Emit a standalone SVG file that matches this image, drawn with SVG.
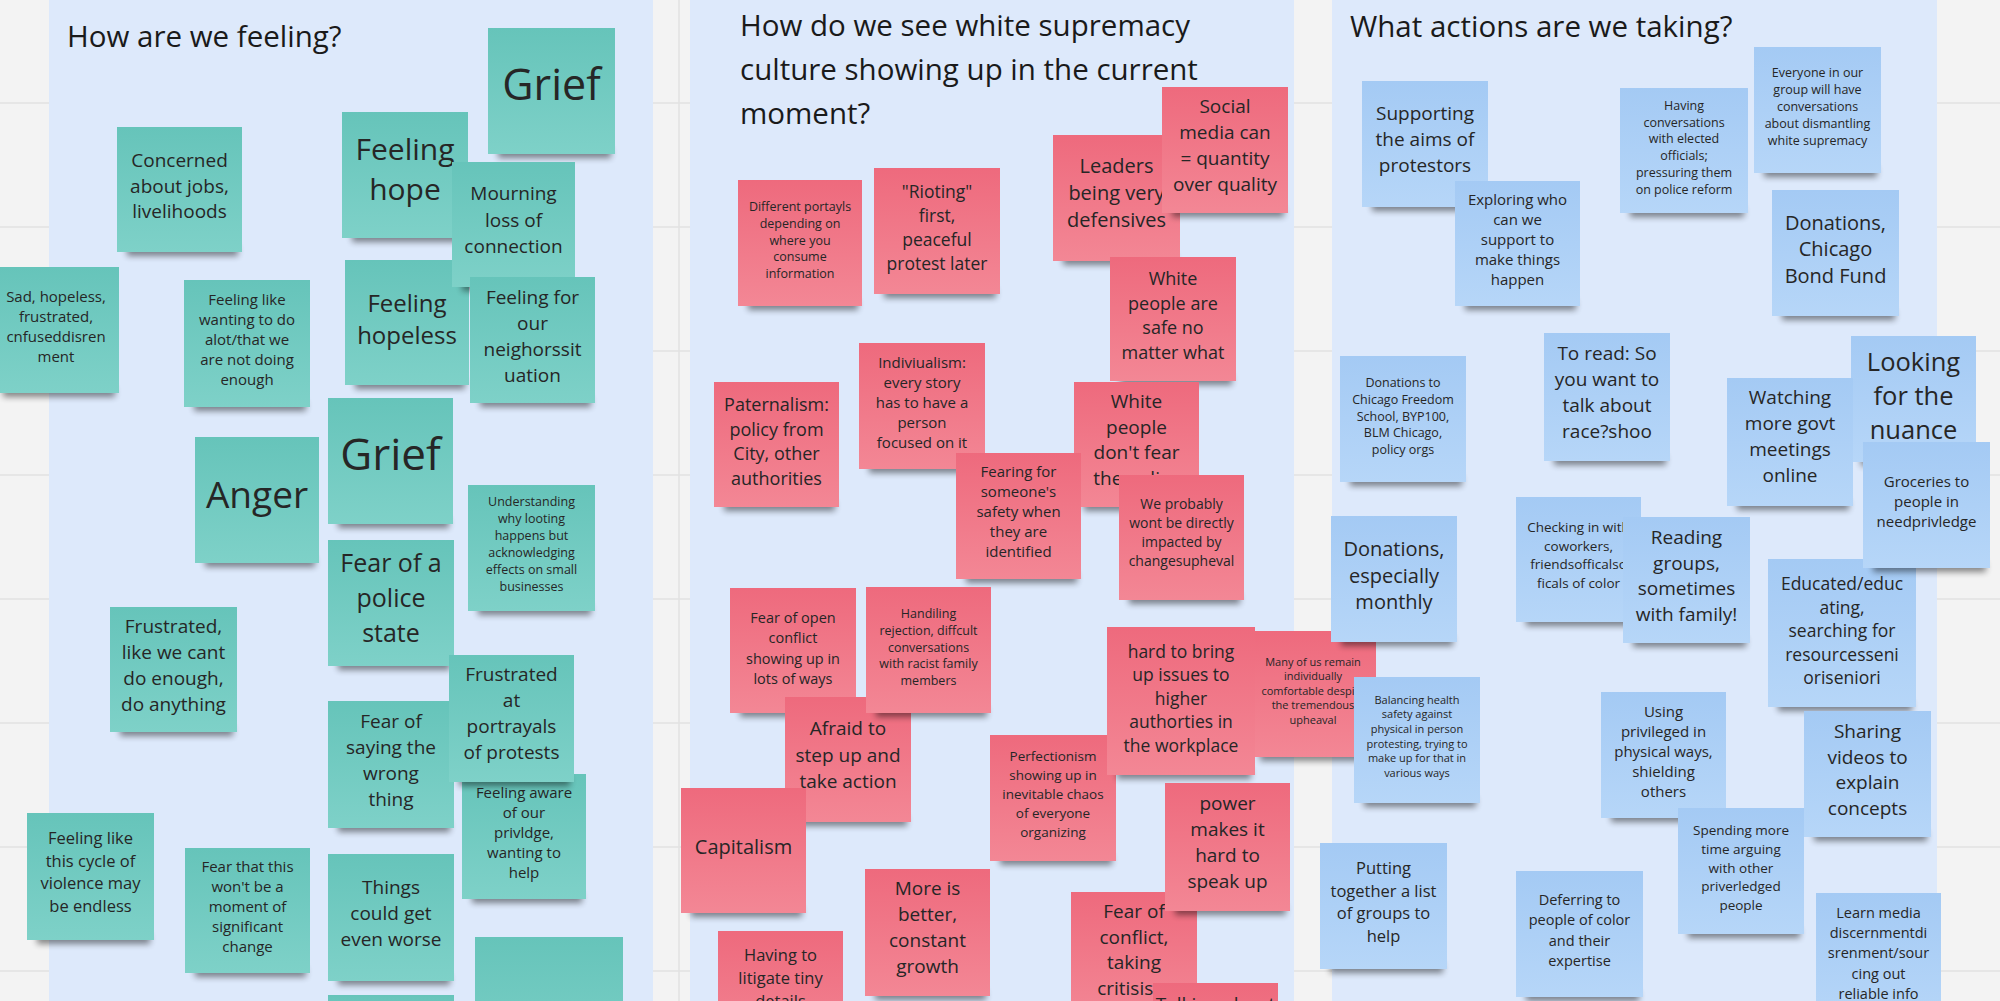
<svg xmlns="http://www.w3.org/2000/svg" width="2000" height="1001" viewBox="0 0 2000 1001">
<defs>
<linearGradient id="gt" x1="0" y1="0" x2="0" y2="1"><stop offset="0" stop-color="#66c4ba"/><stop offset="1" stop-color="#7ed1c8"/></linearGradient>
<linearGradient id="gp" x1="0" y1="0" x2="0" y2="1"><stop offset="0" stop-color="#ee6a7d"/><stop offset="1" stop-color="#f38795"/></linearGradient>
<linearGradient id="gb" x1="0" y1="0" x2="0" y2="1"><stop offset="0" stop-color="#a4caf4"/><stop offset="1" stop-color="#b6d6f8"/></linearGradient>
<filter id="blur" x="-20%" y="-200%" width="140%" height="500%"><feGaussianBlur stdDeviation="3"/></filter>
</defs>
<style>
.t{fill:url(#gt)}.p{fill:url(#gp)}.b{fill:url(#gb)}
.sh{fill:#000;opacity:.45;filter:url(#blur)}
.panel{fill:#dde9fb}
.grid{stroke:#e2e2e2;stroke-width:1.5}
text{font-family:"Open Sans","Noto Sans","Liberation Sans",sans-serif;fill:#262626;text-anchor:middle}
.title{text-anchor:start;fill:#1a1a1a;font-size:29.5px}
</style>
<rect width="2000" height="1001" fill="#f3f3f3"/>
<g id="grid">
<line class="grid" x1="0" y1="103" x2="2000" y2="103"/><line class="grid" x1="0" y1="227" x2="2000" y2="227"/><line class="grid" x1="0" y1="351" x2="2000" y2="351"/><line class="grid" x1="0" y1="475" x2="2000" y2="475"/><line class="grid" x1="0" y1="599" x2="2000" y2="599"/><line class="grid" x1="0" y1="723" x2="2000" y2="723"/><line class="grid" x1="0" y1="847" x2="2000" y2="847"/><line class="grid" x1="0" y1="971" x2="2000" y2="971"/><line class="grid" x1="679" y1="0" x2="679" y2="1001"/>
</g>
<g id="panels">
<rect class="panel" x="49" y="0" width="604" height="1001"/>
<rect class="panel" x="690" y="0" width="604" height="1001"/>
<rect class="panel" x="1332" y="0" width="605" height="1001"/>
</g>
<g id="titles">
<text class="title" x="67" y="47">How are we feeling?</text>
<text class="title" x="740" y="36">How do we see white supremacy</text>
<text class="title" x="740" y="80">culture showing up in the current</text>
<text class="title" x="740" y="124">moment?</text>
<text class="title" x="1350" y="37">What actions are we taking?</text>
</g>
<g id="connectors"/>
<!-- LEFT -->
<g id="n-grief1"><rect class="sh" x="498" y="148" width="113" height="10"/><rect class="t" x="488" y="28" width="127" height="126"/><text x="551.5" y="100" font-size="43">Grief</text></g>
<g id="n-concerned"><rect class="sh" x="127" y="246" width="111" height="10"/><rect class="t" x="117" y="127" width="125" height="125"/><text x="179.5" y="167" font-size="19"><tspan x="179.5">Concerned</tspan><tspan x="179.5" dy="25.5">about jobs,</tspan><tspan x="179.5" dy="25.5">livelihoods</tspan></text></g>
<g id="n-feelinghope"><rect class="sh" x="352" y="232" width="112" height="10"/><rect class="t" x="342" y="112" width="126" height="126"/><text x="405" y="160" font-size="30"><tspan x="405">Feeling</tspan><tspan x="405" dy="40">hope</tspan></text></g>
<g id="n-hopeless"><rect class="sh" x="355" y="379" width="110" height="10"/><rect class="t" x="345" y="260" width="124" height="125"/><text x="407" y="312" font-size="24"><tspan x="407">Feeling</tspan><tspan x="407" dy="32">hopeless</tspan></text></g>
<g id="n-mourning"><rect class="sh" x="462" y="281" width="109" height="10"/><rect class="t" x="452" y="162" width="123" height="125"/><text x="513.5" y="200" font-size="19"><tspan x="513.5">Mourning</tspan><tspan x="513.5" dy="26.5">loss of</tspan><tspan x="513.5" dy="26.5">connection</tspan></text></g>
<g id="n-feelingfor"><rect class="sh" x="480" y="397" width="111" height="10"/><rect class="t" x="470" y="277" width="125" height="126"/><text x="532.5" y="304" font-size="19"><tspan x="532.5">Feeling for</tspan><tspan x="532.5" dy="26">our</tspan><tspan x="532.5" dy="26">neighorssit</tspan><tspan x="532.5" dy="26">uation</tspan></text></g>
<g id="n-sad"><rect class="sh" x="3" y="387" width="112" height="10"/><rect class="t" x="-7" y="267" width="126" height="126"/><text x="56" y="302" font-size="15"><tspan x="56">Sad, hopeless,</tspan><tspan x="56" dy="20">frustrated,</tspan><tspan x="56" dy="20">cnfuseddisren</tspan><tspan x="56" dy="20">ment</tspan></text></g>
<g id="n-feelinglike"><rect class="sh" x="194" y="401" width="112" height="10"/><rect class="t" x="184" y="280" width="126" height="127"/><text x="247" y="305" font-size="15"><tspan x="247">Feeling like</tspan><tspan x="247" dy="20">wanting to do</tspan><tspan x="247" dy="20">alot/that we</tspan><tspan x="247" dy="20">are not doing</tspan><tspan x="247" dy="20">enough</tspan></text></g>
<g id="n-grief2"><rect class="sh" x="338" y="518" width="111" height="10"/><rect class="t" x="328" y="398" width="125" height="126"/><text x="390.5" y="470" font-size="44">Grief</text></g>
<g id="n-anger"><rect class="sh" x="205" y="557" width="110" height="10"/><rect class="t" x="195" y="437" width="124" height="126"/><text x="257" y="508" font-size="37">Anger</text></g>
<g id="n-understanding"><rect class="sh" x="478" y="605" width="113" height="10"/><rect class="t" x="468" y="485" width="127" height="126"/><text x="531.5" y="506" font-size="12.5"><tspan x="531.5">Understanding</tspan><tspan x="531.5" dy="17">why looting</tspan><tspan x="531.5" dy="17">happens but</tspan><tspan x="531.5" dy="17">acknowledging</tspan><tspan x="531.5" dy="17">effects on small</tspan><tspan x="531.5" dy="17">businesses</tspan></text></g>
<g id="n-policestate"><rect class="sh" x="338" y="660" width="112" height="10"/><rect class="t" x="328" y="540" width="126" height="126"/><text x="391" y="572" font-size="25"><tspan x="391">Fear of a</tspan><tspan x="391" dy="35">police</tspan><tspan x="391" dy="35">state</tspan></text></g>
<g id="n-frustrated1"><rect class="sh" x="120" y="726" width="113" height="10"/><rect class="t" x="110" y="607" width="127" height="125"/><text x="173.5" y="633" font-size="19"><tspan x="173.5">Frustrated,</tspan><tspan x="173.5" dy="26">like we cant</tspan><tspan x="173.5" dy="26">do enough,</tspan><tspan x="173.5" dy="26">do anything</tspan></text></g>
<g id="n-saying"><rect class="sh" x="338" y="822" width="112" height="10"/><rect class="t" x="328" y="701" width="126" height="127"/><text x="391" y="728" font-size="19"><tspan x="391">Fear of</tspan><tspan x="391" dy="26">saying the</tspan><tspan x="391" dy="26">wrong</tspan><tspan x="391" dy="26">thing</tspan></text></g>
<g id="n-aware"><rect class="sh" x="472" y="893" width="110" height="10"/><rect class="t" x="462" y="774" width="124" height="125"/><text x="524" y="798" font-size="15"><tspan x="524">Feeling aware</tspan><tspan x="524" dy="20">of our</tspan><tspan x="524" dy="20">privldge,</tspan><tspan x="524" dy="20">wanting to</tspan><tspan x="524" dy="20">help</tspan></text></g>
<g id="n-frustrated2"><rect class="sh" x="459" y="776" width="111" height="10"/><rect class="t" x="449" y="655" width="125" height="127"/><text x="511.5" y="681" font-size="19"><tspan x="511.5">Frustrated</tspan><tspan x="511.5" dy="26">at</tspan><tspan x="511.5" dy="26">portrayals</tspan><tspan x="511.5" dy="26">of protests</tspan></text></g>
<g id="n-cycle"><rect class="sh" x="37" y="934" width="113" height="10"/><rect class="t" x="27" y="813" width="127" height="127"/><text x="90.5" y="844" font-size="16.5"><tspan x="90.5">Feeling like</tspan><tspan x="90.5" dy="22.5">this cycle of</tspan><tspan x="90.5" dy="22.5">violence may</tspan><tspan x="90.5" dy="22.5">be endless</tspan></text></g>
<g id="n-fearthat"><rect class="sh" x="195" y="967" width="111" height="10"/><rect class="t" x="185" y="848" width="125" height="125"/><text x="247.5" y="872" font-size="15"><tspan x="247.5">Fear that this</tspan><tspan x="247.5" dy="20">won't be a</tspan><tspan x="247.5" dy="20">moment of</tspan><tspan x="247.5" dy="20">significant</tspan><tspan x="247.5" dy="20">change</tspan></text></g>
<g id="n-worse"><rect class="sh" x="338" y="975" width="112" height="10"/><rect class="t" x="328" y="854" width="126" height="127"/><text x="391" y="894" font-size="19"><tspan x="391">Things</tspan><tspan x="391" dy="26">could get</tspan><tspan x="391" dy="26">even worse</tspan></text></g>
<g id="n-partial1"><rect class="t" x="475" y="937" width="148" height="140"/></g>
<g id="n-partial2"><rect class="t" x="328" y="995" width="126" height="40"/></g>
<!-- MIDDLE -->
<g id="n-portayls"><rect class="sh" x="748" y="300" width="110" height="10"/><rect class="p" x="738" y="180" width="124" height="126"/><text x="800" y="211" font-size="12.5"><tspan x="800">Different portayls</tspan><tspan x="800" dy="16.8">depending on</tspan><tspan x="800" dy="16.8">where you</tspan><tspan x="800" dy="16.8">consume</tspan><tspan x="800" dy="16.8">information</tspan></text></g>
<g id="n-rioting"><rect class="sh" x="884" y="288" width="112" height="10"/><rect class="p" x="874" y="168" width="126" height="126"/><text x="937" y="198" font-size="17.5"><tspan x="937">"Rioting"</tspan><tspan x="937" dy="24">first,</tspan><tspan x="937" dy="24">peaceful</tspan><tspan x="937" dy="24">protest later</tspan></text></g>
<g id="n-leaders"><rect class="sh" x="1063" y="255" width="113" height="10"/><rect class="p" x="1053" y="135" width="127" height="126"/><text x="1116.5" y="173" font-size="20"><tspan x="1116.5">Leaders</tspan><tspan x="1116.5" dy="27">being very</tspan><tspan x="1116.5" dy="27">defensives</tspan></text></g>
<g id="n-social"><rect class="sh" x="1172" y="207" width="112" height="10"/><rect class="p" x="1162" y="87" width="126" height="126"/><text x="1225" y="113" font-size="19"><tspan x="1225">Social</tspan><tspan x="1225" dy="26">media can</tspan><tspan x="1225" dy="26">= quantity</tspan><tspan x="1225" dy="26">over quality</tspan></text></g>
<g id="n-whitesafe"><rect class="sh" x="1120" y="375" width="112" height="10"/><rect class="p" x="1110" y="257" width="126" height="124"/><text x="1173" y="285" font-size="18"><tspan x="1173">White</tspan><tspan x="1173" dy="24.5">people are</tspan><tspan x="1173" dy="24.5">safe no</tspan><tspan x="1173" dy="24.5">matter what</tspan></text></g>
<g id="n-paternalism"><rect class="sh" x="724" y="501" width="111" height="10"/><rect class="p" x="714" y="382" width="125" height="125"/><text x="776.5" y="411" font-size="18"><tspan x="776.5">Paternalism:</tspan><tspan x="776.5" dy="24.5">policy from</tspan><tspan x="776.5" dy="24.5">City, other</tspan><tspan x="776.5" dy="24.5">authorities</tspan></text></g>
<g id="n-indiv"><rect class="sh" x="869" y="463" width="112" height="10"/><rect class="p" x="859" y="343" width="126" height="126"/><text x="922" y="368" font-size="15"><tspan x="922">Indiviualism:</tspan><tspan x="922" dy="20">every story</tspan><tspan x="922" dy="20">has to have a</tspan><tspan x="922" dy="20">person</tspan><tspan x="922" dy="20">focused on it</tspan></text></g>
<g id="n-whitefear"><rect class="sh" x="1084" y="501" width="111" height="10"/><rect class="p" x="1074" y="382" width="125" height="125"/><text x="1136.5" y="408" font-size="19"><tspan x="1136.5">White</tspan><tspan x="1136.5" dy="25.5">people</tspan><tspan x="1136.5" dy="25.5">don't fear</tspan><tspan x="1136.5" dy="25.5">the police</tspan></text></g>
<g id="n-fearing"><rect class="sh" x="966" y="573" width="111" height="10"/><rect class="p" x="956" y="453" width="125" height="126"/><text x="1018.5" y="477" font-size="15"><tspan x="1018.5">Fearing for</tspan><tspan x="1018.5" dy="20">someone's</tspan><tspan x="1018.5" dy="20">safety when</tspan><tspan x="1018.5" dy="20">they are</tspan><tspan x="1018.5" dy="20">identified</tspan></text></g>
<g id="n-probably"><rect class="sh" x="1129" y="594" width="111" height="10"/><rect class="p" x="1119" y="475" width="125" height="125"/><text x="1181.5" y="509" font-size="14"><tspan x="1181.5">We probably</tspan><tspan x="1181.5" dy="19">wont be directly</tspan><tspan x="1181.5" dy="19">impacted by</tspan><tspan x="1181.5" dy="19">changesupheval</tspan></text></g>
<g id="n-openconflict"><rect class="sh" x="740" y="707" width="112" height="10"/><rect class="p" x="730" y="588" width="126" height="125"/><text x="793" y="623" font-size="14.5"><tspan x="793">Fear of open</tspan><tspan x="793" dy="20.3">conflict</tspan><tspan x="793" dy="20.3">showing up in</tspan><tspan x="793" dy="20.3">lots of ways</tspan></text></g>
<g id="n-afraid"><rect class="sh" x="795" y="816" width="112" height="10"/><rect class="p" x="785" y="697" width="126" height="125"/><text x="848" y="735" font-size="19"><tspan x="848">Afraid to</tspan><tspan x="848" dy="26.5">step up and</tspan><tspan x="848" dy="26.5">take action</tspan></text></g>
<g id="n-handiling"><rect class="sh" x="876" y="707" width="111" height="10"/><rect class="p" x="866" y="587" width="125" height="126"/><text x="928.5" y="618" font-size="12.5"><tspan x="928.5">Handiling</tspan><tspan x="928.5" dy="16.8">rejection, diffcult</tspan><tspan x="928.5" dy="16.8">conversations</tspan><tspan x="928.5" dy="16.8">with racist family</tspan><tspan x="928.5" dy="16.8">members</tspan></text></g>
<g id="n-manyofus"><rect class="sh" x="1260" y="751" width="112" height="10"/><rect class="p" x="1250" y="631" width="126" height="126"/><text x="1313" y="665.5" font-size="11"><tspan x="1313">Many of us remain</tspan><tspan x="1313" dy="14.5">individually</tspan><tspan x="1313" dy="14.5">comfortable despite</tspan><tspan x="1313" dy="14.5">the tremendous</tspan><tspan x="1313" dy="14.5">upheaval</tspan></text></g>
<g id="n-perfectionism"><rect class="sh" x="1000" y="855" width="112" height="10"/><rect class="p" x="990" y="735" width="126" height="126"/><text x="1053" y="761" font-size="13.5"><tspan x="1053">Perfectionism</tspan><tspan x="1053" dy="19">showing up in</tspan><tspan x="1053" dy="19">inevitable chaos</tspan><tspan x="1053" dy="19">of everyone</tspan><tspan x="1053" dy="19">organizing</tspan></text></g>
<g id="n-hardbring"><rect class="sh" x="1117" y="769" width="134" height="10"/><rect class="p" x="1107" y="627" width="148" height="148"/><text x="1181" y="657.5" font-size="17.5"><tspan x="1181">hard to bring</tspan><tspan x="1181" dy="23.5">up issues to</tspan><tspan x="1181" dy="23.5">higher</tspan><tspan x="1181" dy="23.5">authorties in</tspan><tspan x="1181" dy="23.5">the workplace</tspan></text></g>
<g id="n-capitalism"><rect class="sh" x="691" y="907" width="111" height="10"/><rect class="p" x="681" y="788" width="125" height="125"/><text x="743.5" y="854" font-size="20">Capitalism</text></g>
<g id="n-fearconflict"><rect class="sh" x="1081" y="1012" width="112" height="10"/><rect class="p" x="1071" y="892" width="126" height="126"/><text x="1134" y="918" font-size="19"><tspan x="1134">Fear of</tspan><tspan x="1134" dy="25.5">conflict,</tspan><tspan x="1134" dy="25.5">taking</tspan><tspan x="1134" dy="25.5">critisism</tspan></text></g>
<g id="n-power"><rect class="sh" x="1175" y="905" width="111" height="10"/><rect class="p" x="1165" y="783" width="125" height="128"/><text x="1227.5" y="810" font-size="19"><tspan x="1227.5">power</tspan><tspan x="1227.5" dy="26">makes it</tspan><tspan x="1227.5" dy="26">hard to</tspan><tspan x="1227.5" dy="26">speak up</tspan></text></g>
<g id="n-more"><rect class="sh" x="875" y="990" width="111" height="10"/><rect class="p" x="865" y="869" width="125" height="127"/><text x="927.5" y="895" font-size="19"><tspan x="927.5">More is</tspan><tspan x="927.5" dy="26">better,</tspan><tspan x="927.5" dy="26">constant</tspan><tspan x="927.5" dy="26">growth</tspan></text></g>
<g id="n-litigate"><rect class="p" x="718" y="931" width="125" height="126"/><text x="780.5" y="961" font-size="16.5"><tspan x="780.5">Having to</tspan><tspan x="780.5" dy="23">litigate tiny</tspan><tspan x="780.5" dy="23">details</tspan></text></g>
<g id="n-talking"><rect class="p" x="1153" y="983" width="125" height="126"/><text x="1215.5" y="1011" font-size="19">Talking about</text></g>
<!-- RIGHT -->
<g id="n-supporting"><rect class="sh" x="1372" y="201" width="112" height="10"/><rect class="b" x="1362" y="81" width="126" height="126"/><text x="1425" y="120" font-size="19"><tspan x="1425">Supporting</tspan><tspan x="1425" dy="26">the aims of</tspan><tspan x="1425" dy="26">protestors</tspan></text></g>
<g id="n-exploring"><rect class="sh" x="1465" y="300" width="111" height="10"/><rect class="b" x="1455" y="181" width="125" height="125"/><text x="1517.5" y="205" font-size="15"><tspan x="1517.5">Exploring who</tspan><tspan x="1517.5" dy="20">can we</tspan><tspan x="1517.5" dy="20">support to</tspan><tspan x="1517.5" dy="20">make things</tspan><tspan x="1517.5" dy="20">happen</tspan></text></g>
<g id="n-havingconv"><rect class="sh" x="1630" y="207" width="114" height="10"/><rect class="b" x="1620" y="88" width="128" height="125"/><text x="1684" y="110" font-size="12.5"><tspan x="1684">Having</tspan><tspan x="1684" dy="16.7">conversations</tspan><tspan x="1684" dy="16.7">with elected</tspan><tspan x="1684" dy="16.7">officials;</tspan><tspan x="1684" dy="16.7">pressuring them</tspan><tspan x="1684" dy="16.7">on police reform</tspan></text></g>
<g id="n-everyone"><rect class="sh" x="1764" y="167" width="113" height="10"/><rect class="b" x="1754" y="47" width="127" height="126"/><text x="1817.5" y="77" font-size="12.5"><tspan x="1817.5">Everyone in our</tspan><tspan x="1817.5" dy="17">group will have</tspan><tspan x="1817.5" dy="17">conversations</tspan><tspan x="1817.5" dy="17">about dismantling</tspan><tspan x="1817.5" dy="17">white supremacy</tspan></text></g>
<g id="n-donbond"><rect class="sh" x="1782" y="310" width="113" height="10"/><rect class="b" x="1772" y="190" width="127" height="126"/><text x="1835.5" y="229.5" font-size="20"><tspan x="1835.5">Donations,</tspan><tspan x="1835.5" dy="26.5">Chicago</tspan><tspan x="1835.5" dy="26.5">Bond Fund</tspan></text></g>
<g id="n-donfreedom"><rect class="sh" x="1350" y="476" width="112" height="10"/><rect class="b" x="1340" y="356" width="126" height="126"/><text x="1403" y="387" font-size="12.5"><tspan x="1403">Donations to</tspan><tspan x="1403" dy="16.8">Chicago Freedom</tspan><tspan x="1403" dy="16.8">School, BYP100,</tspan><tspan x="1403" dy="16.8">BLM Chicago,</tspan><tspan x="1403" dy="16.8">policy orgs</tspan></text></g>
<g id="n-toread"><rect class="sh" x="1554" y="455" width="112" height="10"/><rect class="b" x="1544" y="333" width="126" height="128"/><text x="1607" y="360" font-size="19"><tspan x="1607">To read: So</tspan><tspan x="1607" dy="26">you want to</tspan><tspan x="1607" dy="26">talk about</tspan><tspan x="1607" dy="26">race?shoo</tspan></text></g>
<g id="n-looking"><rect class="sh" x="1861" y="456" width="111" height="10"/><rect class="b" x="1851" y="336" width="125" height="126"/><text x="1913.5" y="371" font-size="25.5"><tspan x="1913.5">Looking</tspan><tspan x="1913.5" dy="34">for the</tspan><tspan x="1913.5" dy="34">nuance</tspan></text></g>
<g id="n-watching"><rect class="sh" x="1737" y="500" width="112" height="10"/><rect class="b" x="1727" y="378" width="126" height="128"/><text x="1790" y="404" font-size="19"><tspan x="1790">Watching</tspan><tspan x="1790" dy="26">more govt</tspan><tspan x="1790" dy="26">meetings</tspan><tspan x="1790" dy="26">online</tspan></text></g>
<g id="n-educated"><rect class="sh" x="1778" y="701" width="134" height="10"/><rect class="b" x="1768" y="559" width="148" height="148"/><text x="1842" y="590" font-size="17.5"><tspan x="1842">Educated/educ</tspan><tspan x="1842" dy="23.5">ating,</tspan><tspan x="1842" dy="23.5">searching for</tspan><tspan x="1842" dy="23.5">resourcesseni</tspan><tspan x="1842" dy="23.5">oriseniori</tspan></text></g>
<g id="n-groceries"><rect class="sh" x="1873" y="562" width="113" height="10"/><rect class="b" x="1863" y="442" width="127" height="126"/><text x="1926.5" y="487" font-size="15"><tspan x="1926.5">Groceries to</tspan><tspan x="1926.5" dy="20">people in</tspan><tspan x="1926.5" dy="20">needprivledge</tspan></text></g>
<g id="n-checking"><rect class="sh" x="1526" y="616" width="111" height="10"/><rect class="b" x="1516" y="497" width="125" height="125"/><text x="1578.5" y="532" font-size="13.5"><tspan x="1578.5">Checking in with</tspan><tspan x="1578.5" dy="18.7">coworkers,</tspan><tspan x="1578.5" dy="18.7">friendsofficalso</tspan><tspan x="1578.5" dy="18.7">ficals of color</tspan></text></g>
<g id="n-reading"><rect class="sh" x="1633" y="637" width="113" height="10"/><rect class="b" x="1623" y="517" width="127" height="126"/><text x="1686.5" y="544" font-size="19"><tspan x="1686.5">Reading</tspan><tspan x="1686.5" dy="25.6">groups,</tspan><tspan x="1686.5" dy="25.6">sometimes</tspan><tspan x="1686.5" dy="25.6">with family!</tspan></text></g>
<g id="n-donmonthly"><rect class="sh" x="1341" y="636" width="112" height="10"/><rect class="b" x="1331" y="516" width="126" height="126"/><text x="1394" y="556" font-size="20"><tspan x="1394">Donations,</tspan><tspan x="1394" dy="26.5">especially</tspan><tspan x="1394" dy="26.5">monthly</tspan></text></g>
<g id="n-balancing"><rect class="sh" x="1364" y="797" width="112" height="10"/><rect class="b" x="1354" y="677" width="126" height="126"/><text x="1417" y="703.5" font-size="11"><tspan x="1417">Balancing health</tspan><tspan x="1417" dy="14.7">safety against</tspan><tspan x="1417" dy="14.7">physical in person</tspan><tspan x="1417" dy="14.7">protesting, trying to</tspan><tspan x="1417" dy="14.7">make up for that in</tspan><tspan x="1417" dy="14.7">various ways</tspan></text></g>
<g id="n-using"><rect class="sh" x="1611" y="812" width="111" height="10"/><rect class="b" x="1601" y="692" width="125" height="126"/><text x="1663.5" y="717" font-size="15"><tspan x="1663.5">Using</tspan><tspan x="1663.5" dy="20">privileged in</tspan><tspan x="1663.5" dy="20">physical ways,</tspan><tspan x="1663.5" dy="20">shielding</tspan><tspan x="1663.5" dy="20">others</tspan></text></g>
<g id="n-sharing"><rect class="sh" x="1814" y="831" width="113" height="10"/><rect class="b" x="1804" y="711" width="127" height="126"/><text x="1867.5" y="738" font-size="19"><tspan x="1867.5">Sharing</tspan><tspan x="1867.5" dy="25.7">videos to</tspan><tspan x="1867.5" dy="25.7">explain</tspan><tspan x="1867.5" dy="25.7">concepts</tspan></text></g>
<g id="n-spending"><rect class="sh" x="1688" y="928" width="112" height="10"/><rect class="b" x="1678" y="808" width="126" height="126"/><text x="1741" y="835" font-size="13.5"><tspan x="1741">Spending more</tspan><tspan x="1741" dy="18.8">time arguing</tspan><tspan x="1741" dy="18.8">with other</tspan><tspan x="1741" dy="18.8">priverledged</tspan><tspan x="1741" dy="18.8">people</tspan></text></g>
<g id="n-putting"><rect class="sh" x="1330" y="963" width="113" height="10"/><rect class="b" x="1320" y="843" width="127" height="126"/><text x="1383.5" y="874" font-size="16.5"><tspan x="1383.5">Putting</tspan><tspan x="1383.5" dy="22.5">together a list</tspan><tspan x="1383.5" dy="22.5">of groups to</tspan><tspan x="1383.5" dy="22.5">help</tspan></text></g>
<g id="n-deferring"><rect class="sh" x="1526" y="991" width="113" height="10"/><rect class="b" x="1516" y="871" width="127" height="126"/><text x="1579.5" y="905" font-size="14.5"><tspan x="1579.5">Deferring to</tspan><tspan x="1579.5" dy="20.3">people of color</tspan><tspan x="1579.5" dy="20.3">and their</tspan><tspan x="1579.5" dy="20.3">expertise</tspan></text></g>
<g id="n-learn"><rect class="b" x="1816" y="893" width="125" height="126"/><text x="1878.5" y="918" font-size="14.5"><tspan x="1878.5">Learn media</tspan><tspan x="1878.5" dy="20.2">discernmentdi</tspan><tspan x="1878.5" dy="20.2">srenment/sour</tspan><tspan x="1878.5" dy="20.2">cing out</tspan><tspan x="1878.5" dy="20.2">reliable info</tspan></text></g>
</svg>
